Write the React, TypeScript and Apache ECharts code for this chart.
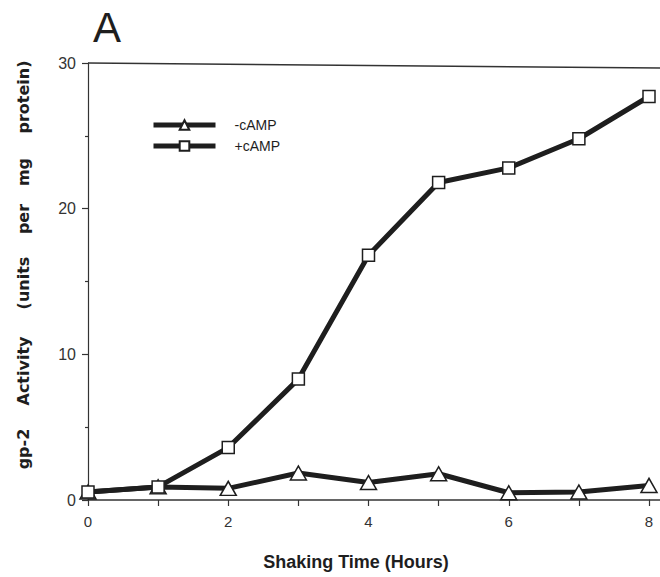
import React, { useEffect, useRef } from "react";
import * as echarts from "echarts";

const hours = [0, 1, 2, 3, 4, 5, 6, 7, 8];
const minusCamp = [0.55, 0.9, 0.8, 1.85, 1.2, 1.8, 0.5, 0.55, 1.0];
const plusCamp = [0.55, 0.9, 3.6, 8.3, 16.8, 21.8, 22.8, 24.8, 27.7];
const xTickLabels = ["0", "2", "4", "6", "8"];
const yTickLabels = ["0", "10", "20", "30"];
const yTitleWords = ["gp-2", "Activity", "(units", "per", "mg", "protein)"];
const yTitleCenters = [449, 371, 283, 219, 172, 97];

const FONT = "'Liberation Sans', Arial, Helvetica, sans-serif";
const WIDE = "'DejaVu Sans', 'Liberation Sans', sans-serif";
const INK = "#1e1e1e";

export default function App() {
  const ref = useRef<HTMLDivElement>(null);
  useEffect(() => {
    if (!ref.current) return;
    const chart = echarts.init(ref.current, null, { renderer: "svg" });
    const lineStyle = { color: INK, width: 5 };
    chart.setOption({
      animation: false,
      backgroundColor: "#ffffff",
      grid: { left: 88, right: 11, top: 63, bottom: 77, containLabel: false },
      legend: {
        orient: "vertical",
        left: 146,
        top: 113,
        itemWidth: 62,
        itemHeight: 12,
        itemGap: 7,
        lineStyle: { width: 5, color: INK },
        textStyle: { fontFamily: FONT, fontSize: 14, color: INK, padding: [0, 0, 0, 14] },
        data: ["-cAMP", "+cAMP"],
      },
      xAxis: {
        type: "value",
        min: 0,
        max: 8,
        interval: 1,
        axisLine: { lineStyle: { color: "#333", width: 1.5 } },
        axisTick: { length: 6, lineStyle: { color: "#333", width: 1.2 } },
        axisLabel: {
          margin: 14,
          fontFamily: FONT,
          fontSize: 15,
          color: "#333",
          formatter: (v: number) => (xTickLabels.includes(String(v)) ? String(v) : ""),
        },
        splitLine: { show: false },
      },
      yAxis: {
        type: "value",
        min: 0,
        max: 30,
        interval: 10,
        axisLine: { show: true, lineStyle: { color: "#333", width: 1.2 } },
        axisTick: { show: true, length: 6, lineStyle: { color: "#333", width: 1.2 } },
        minorTick: { show: true, splitNumber: 2, length: 3, lineStyle: { color: "#333", width: 1.2 } },
        axisLabel: {
          margin: 12,
          fontFamily: FONT,
          fontSize: 16,
          color: "#333",
          formatter: (v: number) => (yTickLabels.includes(String(v)) ? String(v) : ""),
        },
        splitLine: { show: false },
      },
      graphic: [
        {
          type: "text",
          left: 93,
          top: 6,
          style: { text: "A", fontFamily: FONT, fontSize: 42, fill: INK },
        },
        {
          type: "line",
          shape: { x1: 88, y1: 63, x2: 660, y2: 68 },
          style: { stroke: "#333", lineWidth: 1.5 },
        },
        {
          type: "line",
          shape: { x1: 649, y1: 500, x2: 660, y2: 500 },
          style: { stroke: "#333", lineWidth: 1.5 },
        },
        ...yTitleWords.map((w, i) => ({
          type: "text",
          x: 23,
          y: yTitleCenters[i],
          rotation: Math.PI / 2,
          style: {
            text: w,
            fontFamily: WIDE,
            fontSize: 16,
            fontWeight: "bold",
            fill: INK,
            align: "center",
            verticalAlign: "middle",
          },
        })),
        {
          type: "text",
          x: 356,
          y: 562,
          style: {
            text: "Shaking Time (Hours)",
            fontFamily: FONT,
            fontSize: 18,
            fontWeight: "bold",
            fill: INK,
            align: "center",
            verticalAlign: "middle",
          },
        },
      ],
      series: [
        {
          name: "-cAMP",
          type: "line",
          data: hours.map((h, i) => [h, minusCamp[i]]),
          symbol: "triangle",
          symbolSize: [16, 14],
          lineStyle,
          itemStyle: { color: "#ffffff", borderColor: INK, borderWidth: 1.5 },
          z: 3,
        },
        {
          name: "+cAMP",
          type: "line",
          data: hours.map((h, i) => [h, plusCamp[i]]),
          symbol: "rect",
          symbolSize: 12,
          lineStyle,
          itemStyle: { color: "#ffffff", borderColor: INK, borderWidth: 1.5 },
          z: 4,
        },
      ],
    });
    return () => chart.dispose();
  }, []);
  return <div ref={ref} style={{ width: 660, height: 577, position: "absolute", left: 0, top: 0 }} />;
}
